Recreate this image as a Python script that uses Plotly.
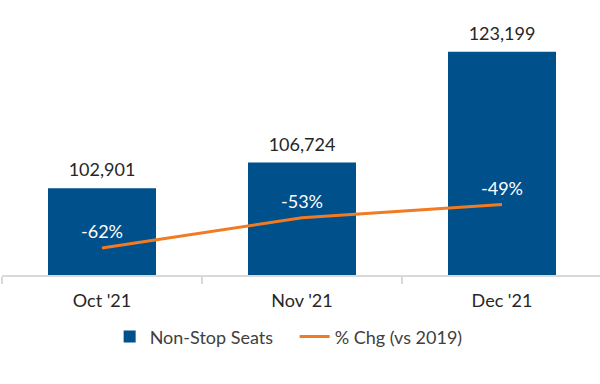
import plotly.graph_objects as go

categories = ["Oct '21", "Nov '21", "Dec '21"]
seats = [102901, 106724, 123199]
pct_chg = [-0.62, -0.53, -0.49]

bar_color = "#00508C"
line_color = "#F07B22"
font_family = "Lato, 'Open Sans', sans-serif"

fig = go.Figure()
fig.add_trace(go.Bar(
    x=categories, y=seats, name="Non-Stop Seats",
    marker=dict(color=bar_color, line=dict(width=0)),
    width=0.54, hoverinfo="skip",
))
# bar value labels (text above bars, pushed up by an invisible marker)
fig.add_trace(go.Scatter(
    x=categories, y=seats, mode="markers+text", showlegend=False,
    marker=dict(size=10, color="rgba(0,0,0,0)"),
    text=[f"{v:,}" for v in seats], textposition="top center",
    textfont=dict(size=18, color="#262626", family=font_family),
    cliponaxis=False, hoverinfo="skip",
))
fig.add_trace(go.Scatter(
    x=categories, y=pct_chg, name="% Chg (vs 2019)", yaxis="y2",
    mode="lines+markers+text", line=dict(color=line_color, width=3),
    marker=dict(size=7, color="rgba(0,0,0,0)"),
    text=[f"{round(v*100)}%" for v in pct_chg], textposition="top center",
    textfont=dict(size=18, color="white", family=font_family),
    cliponaxis=False, hoverinfo="skip",
))

fig.update_layout(
    width=600, height=384,
    margin=dict(l=2, r=0, t=6, b=109),
    plot_bgcolor="white", paper_bgcolor="white",
    font=dict(family=font_family, size=18, color="#262626"),
    xaxis=dict(
        range=[-0.5, 2.49], showgrid=False, showline=True, linecolor="#D9D9D9",
        linewidth=2, ticks="outside", tickson="boundaries", ticklen=7,
        tickwidth=1.5, tickcolor="#D9D9D9", ticklabelstandoff=8,
        tickfont=dict(size=18, color="#262626"),
    ),
    yaxis=dict(range=[90000, 130000], visible=False, showgrid=False),
    yaxis2=dict(range=[-0.70, 0.10], overlaying="y", visible=False,
                showgrid=False),
    showlegend=True,
    legend=dict(orientation="h", x=0.18, xanchor="left", y=-0.23,
                yanchor="middle", font=dict(size=18, color="#404040"),
                itemwidth=30, entrywidth=140),
)

fig.write_html("out.html",
               config={"displayModeBar": False},
               post_script="document.body.style.margin='0';")
